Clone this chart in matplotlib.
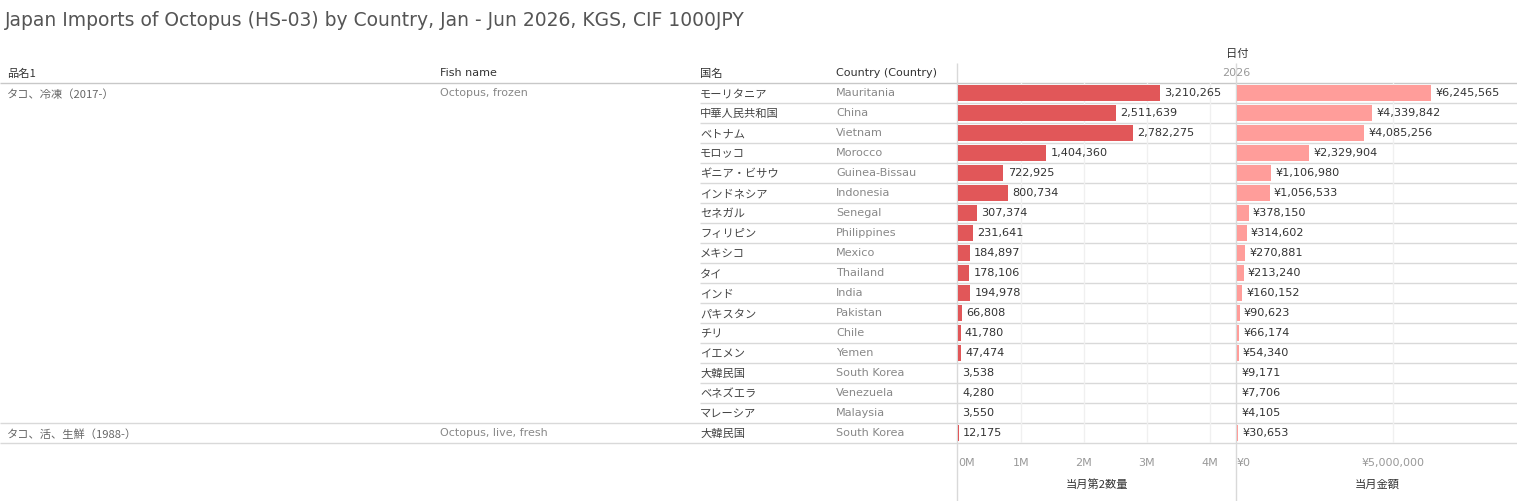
import numpy as np
import matplotlib.pyplot as plt
from matplotlib.ticker import FuncFormatter

W, H = 1517, 501

title = "Japan Imports of Octopus (HS-03) by Country, Jan - Jun 2026, KGS, CIF 1000JPY"

products_jp = ["タコ、冷凍（2017-）", "タコ、活、生鮮（1988-）"]
products_en = ["Octopus, frozen", "Octopus, live, fresh"]
product_rows = [17, 1]

countries_jp = ["モーリタニア", "中華人民共和国", "ベトナム", "モロッコ", "ギニア・ビサウ",
                "インドネシア", "セネガル", "フィリピン", "メキシコ", "タイ", "インド",
                "パキスタン", "チリ", "イエメン", "大韓民国", "ベネズエラ", "マレーシア",
                "大韓民国"]
countries_en = ["Mauritania", "China", "Vietnam", "Morocco", "Guinea-Bissau",
                "Indonesia", "Senegal", "Philippines", "Mexico", "Thailand", "India",
                "Pakistan", "Chile", "Yemen", "South Korea", "Venezuela", "Malaysia",
                "South Korea"]
qty = [3210265, 2511639, 2782275, 1404360, 722925, 800734, 307374, 231641, 184897,
       178106, 194978, 66808, 41780, 47474, 3538, 4280, 3550, 12175]
value = [6245565, 4339842, 4085256, 2329904, 1106980, 1056533, 378150, 314602, 270881,
         213240, 160152, 90623, 66174, 54340, 9171, 7706, 4105, 30653]

qty_ticks = [0, 1e6, 2e6, 3e6, 4e6]
value_ticks = [0, 5e6]

JP = ["Noto Sans CJK JP", "DejaVu Sans"]
LAT = ["DejaVu Sans", "Noto Sans CJK JP"]
dark = "#333333"
grey = "#888888"
line_c = "#d9d9d9"
red = "#e15759"
pink = "#ff9d9a"
jp_size = 8.1
jp_dy = 1.2  # CJK glyphs sit a little high with va=center

n = len(qty)
top, row_h = 83, 20
left1, right1, right2 = 957, 1236, 1517

fig = plt.figure(figsize=(W / 100, H / 100), dpi=100)

# background axes in pixel coordinates for the table part
bg = fig.add_axes([0, 0, 1, 1])
bg.set_xlim(0, W)
bg.set_ylim(H, 0)
bg.axis("off")

bg.text(5, 20, title, fontsize=13.5, color="#555555", family=LAT, va="center")

# headers
bg.text(7, 73 + jp_dy, "品名1", fontsize=jp_size, color=dark, family=JP, va="center")
bg.text(440, 73, "Fish name", fontsize=8, color=dark, family=LAT, va="center")
bg.text(700, 73 + jp_dy, "国名", fontsize=jp_size, color=dark, family=JP, va="center")
bg.text(836, 73, "Country (Country)", fontsize=8, color=dark, family=LAT, va="center")
bg.text(1237, 53 + jp_dy, "日付", fontsize=jp_size, color=dark, family=JP, va="center", ha="center")
bg.text(1236, 73, "2026", fontsize=8, color="#999999", family=LAT, va="center", ha="center")

# grid lines of the table
bottom = top + row_h * n
bg.hlines(top, 0, W, color="#c8c8c8", lw=1)
bg.hlines(bottom, 0, W, color=line_c, lw=1)
start = 0
for k, cnt in enumerate(product_rows):
    y0 = top + row_h * start
    bg.text(7, y0 + row_h / 2 + jp_dy, products_jp[k], fontsize=jp_size, color="#666666",
            family=JP, va="center")
    bg.text(440, y0 + row_h / 2, products_en[k], fontsize=8, color=grey,
            family=LAT, va="center")
    if start > 0:
        bg.hlines(y0, 0, W, color=line_c, lw=1)
    for j in range(1, cnt):
        bg.hlines(y0 + row_h * j, 700, W, color=line_c, lw=1)
    start += cnt

for i in range(n):
    yc = top + row_h * (i + 0.5)
    bg.text(700, yc + jp_dy, countries_jp[i], fontsize=jp_size, color="#444444",
            family=JP, va="center")
    bg.text(836, yc, countries_en[i], fontsize=8.1, color=grey, family=LAT, va="center")

bg.vlines([left1, right1], 63, H, color=line_c, lw=1)

rows = np.arange(n)


def panel(x0, x1, data, color, xmax, ticks, fmt_tick, fmt_val, xlabel):
    ax = fig.add_axes([x0 / W, 1 - bottom / H, (x1 - x0) / W, (bottom - top) / H])
    ax.set_facecolor("none")
    ax.barh(rows, data, height=0.78, color=color, zorder=3)
    ax.set_xlim(0, xmax)
    ax.set_ylim(n - 0.5, -0.5)
    ax.set_yticks([])
    for t in ticks[1:]:
        ax.axvline(t, color="#f0f0f0", lw=1, zorder=1)
    for s in ax.spines.values():
        s.set_visible(False)
    ax.set_xticks(ticks)
    ax.xaxis.set_major_formatter(FuncFormatter(fmt_tick))
    ax.tick_params(axis="x", length=0, pad=11, labelsize=8, labelcolor="#999999")
    for lab in ax.get_xticklabels():
        lab.set_family(LAT)
    ax.get_xticklabels()[0].set_horizontalalignment("left")
    ax.set_xlabel(xlabel, fontsize=jp_size, color=dark, family=JP, labelpad=8)
    for i, v in enumerate(data):
        ax.annotate(fmt_val(v), (v, i), xytext=(3, 0), textcoords="offset points",
                    va="center", ha="left", fontsize=8.1, color=dark, family=LAT,
                    annotation_clip=False, zorder=4)
    return ax


ax1 = panel(left1 + 1, right1, qty, red, 4.42e6, qty_ticks,
            lambda v, p: f"{v / 1e6:.0f}M", lambda v: f"{v:,.0f}", "当月第2数量")
ax2 = panel(right1 + 1, right2, value, pink, 9.0e6, value_ticks,
            lambda v, p: f"¥{v:,.0f}", lambda v: f"¥{v:,.0f}", "当月金額")

fig.savefig("out.png", dpi=100)
